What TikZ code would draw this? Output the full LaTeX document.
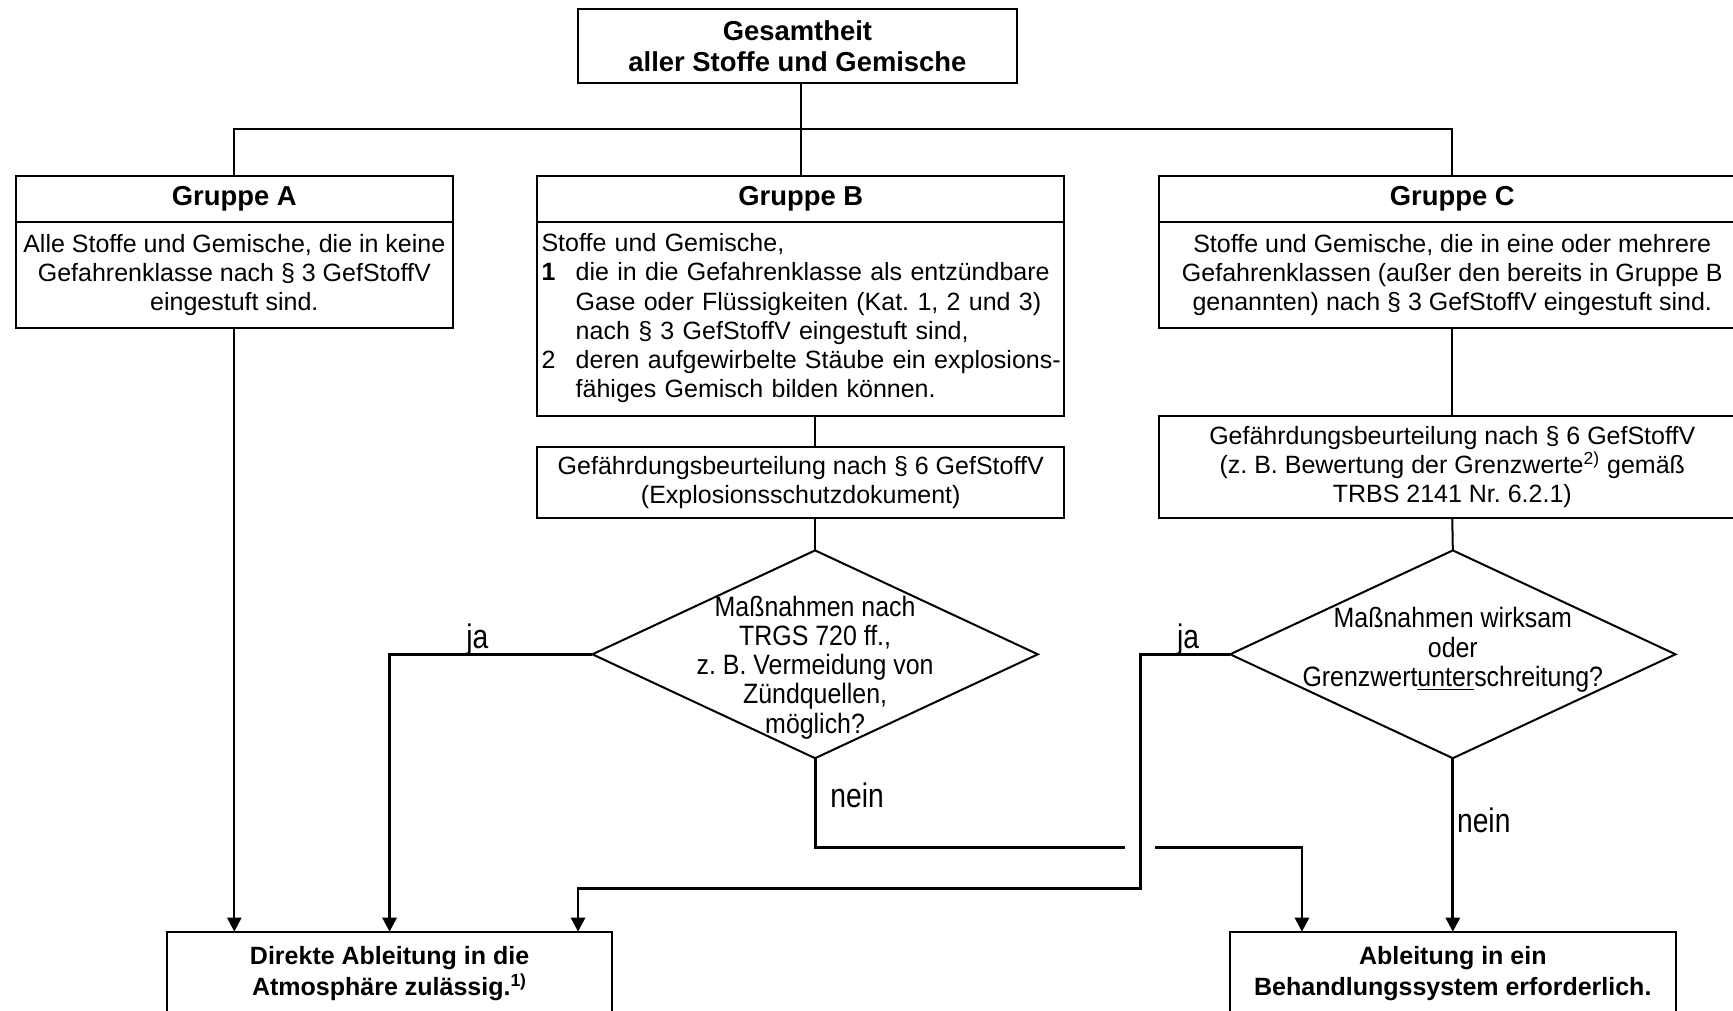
\documentclass[tikz,border=0pt]{standalone}
\usepackage{fontspec}
\setmainfont{Liberation Sans}
\newfontfamily\schmal[FakeStretch=0.89]{Liberation Sans}
\newfontfamily\schmaler[FakeStretch=0.83]{Liberation Sans}
\usetikzlibrary{positioning,shapes.geometric,arrows.meta}
\frenchspacing

\tikzset{
  kasten/.style={draw, line width=1pt, outer sep=0pt, inner sep=2.2pt, align=center,
    font=\fontsize{12.5}{14.6}\selectfont},
  kopf/.style={kasten, minimum height=23.2pt, font=\fontsize{13.7}{15.5}\selectfont\bfseries},
  ziel/.style={kasten, anchor=north, minimum width=222.7pt, minimum height=42pt,
    font=\fontsize{12.5}{15.5}\selectfont\bfseries},
  raute/.style={draw, diamond, line width=1pt, outer sep=0pt, inner sep=0pt,
    minimum width=222.7pt, minimum height=103.9pt},
  frage/.style={align=center, font=\schmal\fontsize{14}{14.6}\selectfont},
  linie/.style={line width=1pt},
  pfeil/.style={line width=1pt, -{Triangle[width=7pt,length=7pt]}},
  entscheid/.style={line width=1.4pt},
  antwort/.style={font=\schmaler\fontsize{17}{17}\selectfont, inner sep=0pt}
}

\begin{document}
\begin{tikzpicture}[x=0.5526pt, y=-0.5526pt]
  \useasboundingbox (0,0) rectangle (1568,914);
  \clip (0,0) rectangle (1568,914);

  % Gesamtheit
  \node[kopf, minimum width=219.4pt, minimum height=37pt] (gesamt) at (721.5,41.5)
    {Gesamtheit\\aller Stoffe und Gemische};

  % Gruppe A
  \node[kopf, minimum width=218.8pt] (gakopf) at (212,180) {Gruppe A};
  \node[kasten, below=0pt of gakopf, minimum width=218.8pt, minimum height=53pt] (gatext)
    {Alle Stoffe und Gemische, die in keine\\Gefahrenklasse nach § 3 GefStoffV\\eingestuft sind.};

  % Gruppe B
  \node[kopf, minimum width=263.6pt] (gbkopf) at (724.5,180) {Gruppe B};
  \node[kasten, below=0pt of gbkopf, minimum width=263.6pt, minimum height=96.7pt,
    text width=259.2pt, align=left] (gbtext)
    {\begin{tabular}{@{}p{17.1pt}@{}l@{}}
       \multicolumn{2}{@{}l@{}}{Stoffe und Gemische,}\\
       \textbf{1} & die in die Gefahrenklasse als entzündbare\\
                  & Gase oder Flüssigkeiten (Kat. 1, 2 und 3)\\
                  & nach § 3 GefStoffV eingestuft sind,\\
       2          & deren aufgewirbelte Stäube ein explosions-\\
                  & fähiges Gemisch bilden können.
     \end{tabular}};
  \node[kasten, minimum width=263.6pt, minimum height=35.9pt] (bbeurt) at (724.5,436.5)
    {Gefährdungsbeurteilung nach § 6 GefStoffV\\(Explosionsschutzdokument)};
  \node[raute, label={[frage, yshift=-6.6pt]center:{Maßnahmen nach\\TRGS 720 ff.,\\z. B. Vermeidung von\\Zündquellen,\\möglich?}}]
    (bpruef) at (737.5,592) {};

  % Gruppe C
  \node[kopf, minimum width=292.9pt] (gckopf) at (1314,180) {Gruppe C};
  \node[kasten, below=0pt of gckopf, minimum width=292.9pt, minimum height=53pt] (gctext)
    {Stoffe und Gemische, die in eine oder mehrere\\Gefahrenklassen (außer den bereits in Gruppe B\\genannten) nach § 3 GefStoffV eingestuft sind.};
  \node[kasten, minimum width=292.9pt, minimum height=51.4pt] (cbeurt) at (1314,422.5)
    {Gefährdungsbeurteilung nach § 6 GefStoffV\\(z. B. Bewertung der Grenzwerte\textsuperscript{2)} gemäß\\TRBS 2141 Nr. 6.2.1)};
  \node[raute, label={[frage, yshift=2.2pt]center:{Maßnahmen wirksam\\oder\\Grenzwert\underline{unter}schreitung?}}]
    (cpruef) at (1314.5,592) {};

  % Ergebnisse
  \node[ziel] (direkt) at (352.5,843) {Direkte Ableitung in die\\Atmosphäre zulässig.\textsuperscript{1)}};
  \node[ziel] (behandl) at (1314.5,843) {Ableitung in ein\\Behandlungssystem erforderlich.};

  % Verbindungen
  \coordinate (verteiler) at (724.5,117);
  \coordinate (sprungL) at (1018,767);
  \coordinate (sprungR) at (1045,767);
  \coordinate (einB) at (1178,843);
  \coordinate (knick) at (1032,804);
  \coordinate (einC) at (523,843);

  \draw[linie] (gesamt.south -| gbkopf.north) -- (gbkopf.north);
  \draw[linie] (gakopf.north) |- (verteiler) -| (gckopf.north);
  \draw[linie] (gbtext.south -| bpruef.north) -- (bbeurt.north -| bpruef.north);
  \draw[linie] (bbeurt.south -| bpruef.north) -- (bpruef.north);
  \draw[linie] (gctext.south) -- (cbeurt.north);
  \draw[linie] (cbeurt.south) -- (cpruef.north);

  \draw[pfeil] (gatext.south) -- (gatext.south |- direkt.north);
  \draw[pfeil, entscheid] (bpruef.west) -| (direkt.north);
  \draw[entscheid] (bpruef.south) |- (sprungL);
  \draw[pfeil, entscheid] (sprungR) -| (einB);
  \draw[pfeil, entscheid] (cpruef.west) -| (knick) -| (einC);
  \draw[pfeil, entscheid] (cpruef.south) -- (behandl.north);

  % ja / nein
  \node[antwort, anchor=base] (jaB) at (432,587) {ja};
  \node[antwort, anchor=base west] (neinB) at (751,731) {nein};
  \node[antwort, anchor=base] (jaC) at (1075,587) {ja};
  \node[antwort, anchor=base west] (neinC) at (1318,753) {nein};
\end{tikzpicture}
\end{document}
